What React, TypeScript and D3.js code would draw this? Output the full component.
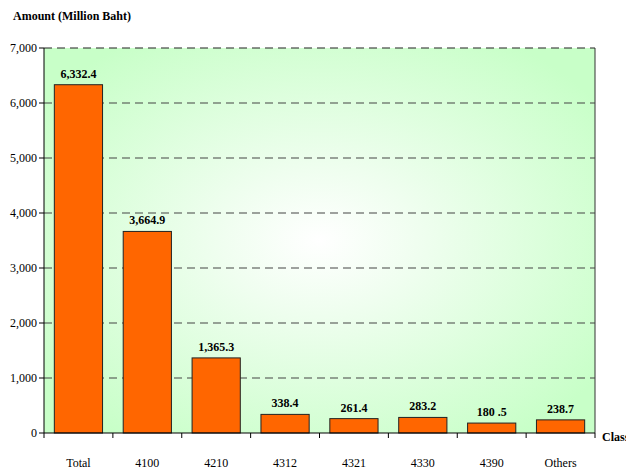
import React from "react";
import * as d3 from "d3";

const categories = ["Total", "4100", "4210", "4312", "4321", "4330", "4390", "Others"];
const values = [6332.4, 3664.9, 1365.3, 338.4, 261.4, 283.2, 180.5, 238.7];
const valueLabels = ["6,332.4", "3,664.9", "1,365.3", "338.4", "261.4", "283.2", "180 .5", "238.7"];
const yTicks = [0, 1000, 2000, 3000, 4000, 5000, 6000, 7000];

export default function App() {
  const W = 626, H = 470;
  const left = 44, right = 595, top = 48, bottom = 433;
  const x = d3.scaleBand<string>().domain(categories).range([left, right]).paddingInner(0.3).paddingOuter(0.15);
  const xb = d3.scaleBand<string>().domain(categories).range([left, right]);
  const y = d3.scaleLinear().domain([0, 7000]).range([bottom, top]);
  const fmt = d3.format(",");
  const ts = { fontFamily: '"Liberation Serif", "Times New Roman", Times, serif' };
  return (
    <svg width={W} height={H} style={{ position: "absolute", left: 0, top: 0 }}>
      <defs>
        <radialGradient id="bg" cx="0.5" cy="0.5" r="0.62">
          <stop offset="0" stopColor="#ffffff" />
          <stop offset="0.3" stopColor="#effeef" />
          <stop offset="1" stopColor="#c8ffc8" />
        </radialGradient>
      </defs>
      <rect x={0} y={0} width={W} height={H} fill="#fff" />
      <rect x={left} y={top} width={right - left} height={bottom - top} fill="url(#bg)" />
      <line x1={right} x2={right} y1={top} y2={bottom} stroke="#333" strokeWidth={1} />
      {yTicks.filter(t => t > 0).map(t => (
        <line key={t} x1={left} x2={right} y1={y(t)} y2={y(t)} stroke={t === 7000 ? "#222" : "#444"} strokeWidth={1.2} strokeDasharray="8,5" />
      ))}
      {categories.map((c, i) => (
        <g key={c}>
          <rect x={x(c)} y={y(values[i])} width={x.bandwidth()} height={bottom - y(values[i])} fill="#ff6600" stroke="#222" strokeWidth={1} />
          <text style={ts} x={x(c)! + x.bandwidth() / 2} y={y(values[i]) - 7} textAnchor="middle" fontSize={12} fontWeight="bold">{valueLabels[i]}</text>
          <text style={ts} x={xb(c)! + xb.bandwidth() / 2} y={467} textAnchor="middle" fontSize={12}>{c}</text>
        </g>
      ))}
      <line x1={left} x2={left} y1={top} y2={bottom} stroke="#000" strokeWidth={1} />
      <line x1={left} x2={right} y1={bottom} y2={bottom} stroke="#000" strokeWidth={1} />
      {yTicks.map(t => (
        <g key={t}>
          <line x1={left - 5} x2={left} y1={y(t)} y2={y(t)} stroke="#000" />
          <text style={ts} x={37} y={y(t) + 4} textAnchor="end" fontSize={12}>{fmt(t)}</text>
        </g>
      ))}
      {categories.concat(["end"]).map((c, i) => (
        <line key={"t" + i} x1={left + i * xb.bandwidth()} x2={left + i * xb.bandwidth()} y1={bottom} y2={bottom + 5} stroke="#000" />
      ))}
      <text style={ts} x={13} y={20} fontSize={12} fontWeight="bold">Amount (Million Baht)</text>
      <text style={ts} x={602} y={441} fontSize={12} fontWeight="bold">Class</text>
    </svg>
  );
}
